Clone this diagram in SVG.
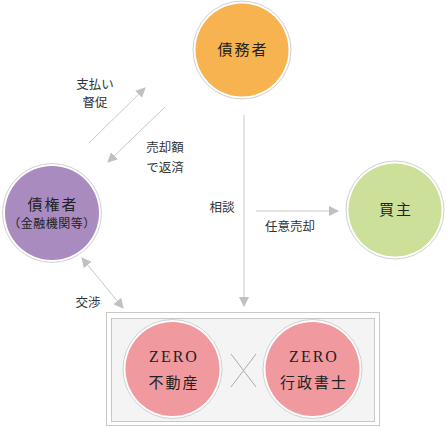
<svg xmlns="http://www.w3.org/2000/svg" width="446" height="427" viewBox="0 0 446 427">
<style>
.ring{fill:#fff;stroke:#d0d0d0;stroke-width:1}
.nt{font-family:"Liberation Serif","Noto Sans CJK JP",serif;font-size:15px;fill:#222;text-anchor:middle;letter-spacing:2px}
.lb{font-family:"Liberation Sans","Noto Sans CJK JP",sans-serif;font-size:12.5px;fill:#333;text-anchor:middle}
.ln{stroke:#c8c8c8;stroke-width:1;fill:none}
.x{stroke:#aaa;stroke-width:1}
</style>
<defs>
<marker id="ah" viewBox="0 0 10 10" refX="9" refY="5" markerWidth="10" markerHeight="10" markerUnits="userSpaceOnUse" orient="auto-start-reverse">
<path d="M0,0 L10,5 L0,10 z" fill="#c0c0c0"/>
</marker>
</defs>
<g id="connectors">
<line class="ln" x1="244" y1="115" x2="244" y2="306" marker-end="url(#ah)"/>
<line class="ln" x1="256" y1="211" x2="338" y2="211" marker-end="url(#ah)"/>
<line class="ln" x1="89" y1="143" x2="145" y2="88" marker-end="url(#ah)"/>
<line class="ln" x1="165" y1="107" x2="108" y2="162" marker-end="url(#ah)"/>
<line class="ln" x1="82" y1="258" x2="123" y2="308" marker-start="url(#ah)" marker-end="url(#ah)"/>
</g>
<g id="labels">
<text class="lb" x="95" y="89">支払い</text>
<text class="lb" x="95" y="107">督促</text>
<text class="lb" x="165" y="152">売却額</text>
<text class="lb" x="165" y="172">で返済</text>
<text class="lb" x="222" y="212">相談</text>
<text class="lb" x="290" y="231">任意売却</text>
<text class="lb" x="88" y="307">交渉</text>
</g>
<g id="debtor">
<circle class="ring" cx="242" cy="50" r="49"/>
<circle cx="242" cy="50" r="46.5" fill="#f7b34f"/>
<text class="nt" x="243" y="55">債務者</text>
</g>
<g id="creditor">
<circle class="ring" cx="52" cy="213" r="49.5"/>
<circle cx="52" cy="213" r="47" fill="#a98bc0"/>
<text class="nt" x="53" y="210">債権者</text>
<text class="nt" x="52" y="228" style="font-size:12px;letter-spacing:0.5px">（金融機関等）</text>
</g>
<g id="buyer">
<circle class="ring" cx="395" cy="210" r="49"/>
<circle cx="395" cy="210" r="46.5" fill="#cde099"/>
<text class="nt" x="396" y="215">買主</text>
</g>
<g id="zero-box">
<rect x="106.5" y="312.5" width="273" height="113" fill="#fff" stroke="#c8c8c8"/>
<rect x="111.5" y="318.5" width="263" height="103" fill="#f4f4f4" stroke="#c8c8c8"/>
<line class="x" x1="231" y1="354" x2="256" y2="387"/>
<line class="x" x1="256" y1="354" x2="231" y2="387"/>
</g>
<g id="zero-fudosan">
<circle class="ring" cx="172.5" cy="369" r="49.5"/>
<circle cx="172.5" cy="369" r="47" fill="#f0999e"/>
<text class="nt" x="174" y="362" style="font-size:16px">ZERO</text>
<text class="nt" x="174" y="388">不動産</text>
</g>
<g id="zero-gyosei">
<circle class="ring" cx="312.5" cy="369" r="49.5"/>
<circle cx="312.5" cy="369" r="47" fill="#f0999e"/>
<text class="nt" x="314" y="362" style="font-size:16px">ZERO</text>
<text class="nt" x="314" y="388">行政書士</text>
</g>
</svg>
